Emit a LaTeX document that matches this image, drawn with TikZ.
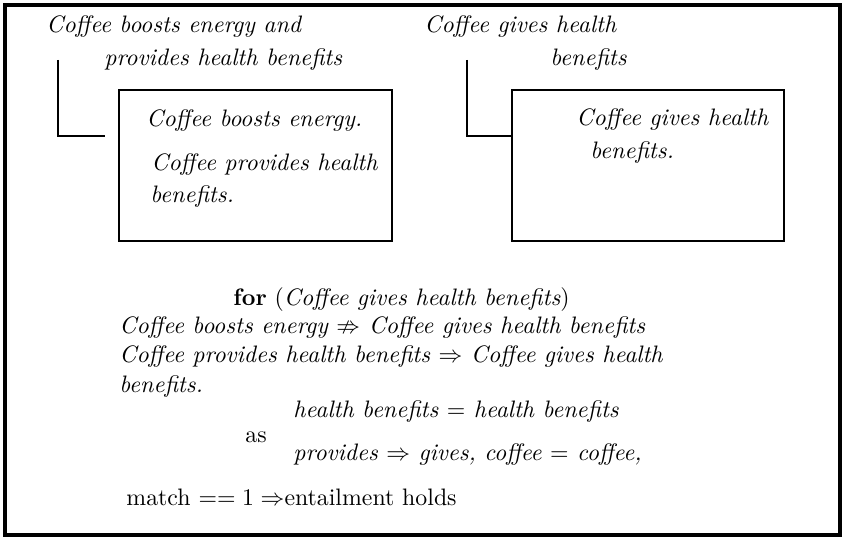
\documentclass[tikz,border=0pt]{standalone}
\usepackage{amsmath,amssymb}
\usetikzlibrary{positioning,fit}

\begin{document}
\begin{tikzpicture}[x=0.42pt, y=-0.42pt, font=\normalsize]
  \tikzset{
    txt/.style={anchor=west, inner sep=0pt, font=\itshape},
    premise/.style={draw, line width=1pt, inner sep=0pt},
    hook/.style={line width=1pt}
  }
  \useasboundingbox (0,0) rectangle (849,538);

  % ---- outer frame ----
  \node[draw, line width=1.3pt, inner sep=0pt, fit={(5,5) (840,535)}] (frame) {};

  % ---- left premise ----
  \node[txt] (lhead1) at (46,27) {Coffee boosts energy and};
  \node[txt] (lhead2) at (104,60) {provides health benefits};
  \node[premise, fit={(119,90) (392,241)}] (lbox) {};
  \node[txt] (lsent1) at (146,121) {Coffee boosts energy.};
  \node[txt] (lsent2) at (151,165) {Coffee provides health};
  \node[txt] (lsent3) at (150,197) {benefits.};

  \coordinate (lhook) at (58,60);
  \coordinate (lend) at (105,136);
  \draw[hook] (lhook) |- (lend);

  % ---- right hypothesis ----
  \node[txt] (rhead1) at (424,27) {Coffee gives health};
  \node[txt] (rhead2) at (550,60) {benefits};
  \node[premise, fit={(512,90) (784,241)}] (rbox) {};
  \node[txt] (rsent1) at (576,120) {Coffee gives health};
  \node[txt] (rsent2) at (590,153) {benefits.};

  \coordinate (rhook) at (467,60);
  \coordinate (rend) at (rbox.west |- lend);
  \draw[hook] (rhook) |- (rend);

  % ---- reasoning ----
  \node[anchor=west, inner sep=0pt] (forline) at (233,300)
    {\textbf{for} (\textit{Coffee gives health benefits})};
  \node[txt] (neg) at (119,328)
    {Coffee boosts energy $\nRightarrow$ Coffee gives health benefits};
  \node[txt] (pos1) at (119,357)
    {Coffee provides health benefits $\Rightarrow$ Coffee gives health};
  \node[txt] (pos2) at (119,387) {benefits.};
  \node[anchor=west, inner sep=0pt] (as) at (245,437) {as};
  \node[txt] (eq1) at (293,412) {health benefits $=$ health benefits};
  \node[txt] (eq2) at (293,455) {provides $\Rightarrow$ gives, coffee $=$ coffee,};
  \node[anchor=west, inner sep=0pt] (match) at (126,497)
    {match $==1\Rightarrow$entailment holds};
\end{tikzpicture}
\end{document}
